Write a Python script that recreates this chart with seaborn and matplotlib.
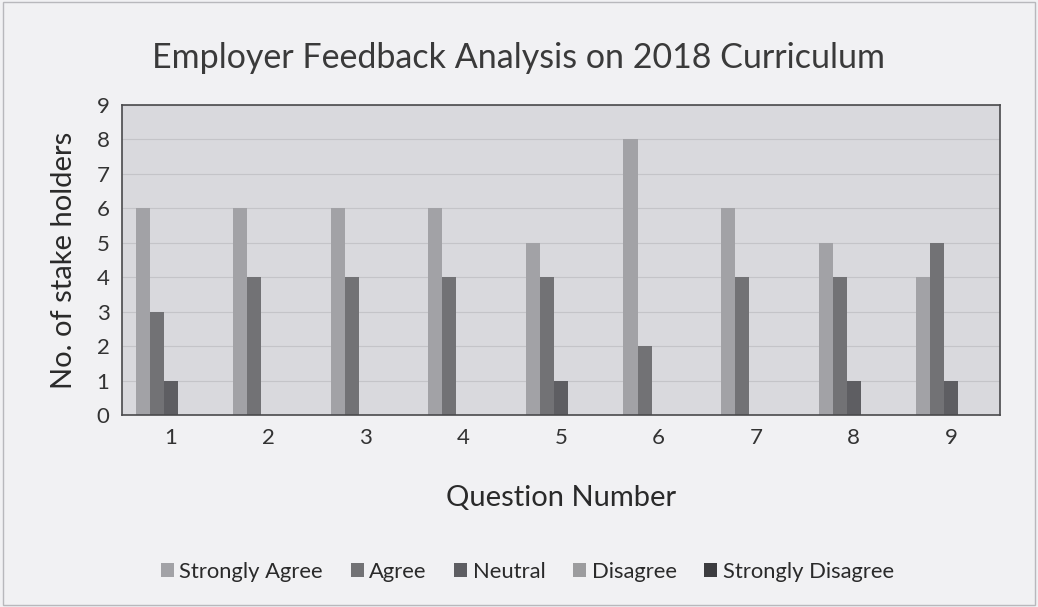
import matplotlib
matplotlib.use("Agg")
import matplotlib.pyplot as plt
import numpy as np
import pandas as pd
import seaborn as sns

questions = ['1', '2', '3', '4', '5', '6', '7', '8', '9']
responses = ['Strongly Agree', 'Agree', 'Neutral', 'Disagree', 'Strongly Disagree']
strongly_agree = [6, 6, 6, 6, 5, 8, 6, 5, 4]
agree = [3, 4, 4, 4, 4, 2, 4, 4, 5]
neutral = [1, 0, 0, 0, 1, 0, 0, 1, 1]
disagree = [0, 0, 0, 0, 0, 0, 0, 0, 0]
strongly_disagree = [0, 0, 0, 0, 0, 0, 0, 0, 0]
colors = ['#a2a2a6', '#727275', '#5e5e62', '#9c9c9e', '#3c3c3f']

rows = []
for resp, vals in zip(responses, [strongly_agree, agree, neutral, disagree, strongly_disagree]):
    for q, v in zip(questions, vals):
        rows.append({'Question': q, 'Response': resp, 'Count': v})
df = pd.DataFrame(rows)

sns.set_style('white')
plt.rcParams['font.family'] = ['Lato', 'DejaVu Sans']

fig = plt.figure(figsize=(10.38, 6.07), dpi=100, facecolor='#f1f1f3')
ax = fig.add_axes([0.1175, 0.316, 0.846, 0.511])
ax.set_facecolor('#d9d9dd')

sns.barplot(data=df, x='Question', y='Count', hue='Response', hue_order=responses,
            palette=colors, width=0.72, ax=ax, legend=True, saturation=1, linewidth=0)

ax.set_ylim(0, 9)
ax.set_yticks(range(0, 10))
ax.yaxis.grid(True, color='#c4c4c8', linewidth=0.8)
ax.set_axisbelow(True)
for s in ax.spines.values():
    s.set_color('#4a4a4c')
    s.set_linewidth(1.2)
ax.tick_params(axis='both', labelsize=16, colors='#333333', length=0, pad=9)
ax.set_xlabel('Question Number', fontsize=21, color='#2a2a2a', labelpad=27)
ax.set_ylabel('No. of stake holders', fontsize=21, color='#2a2a2a', labelpad=14)
fig.suptitle('Employer Feedback Analysis on 2018 Curriculum', fontsize=24.5,
             color='#3a3a3a', y=0.93)

handles, labels = ax.get_legend_handles_labels()
ax.get_legend().remove()
fig.legend(handles, labels, loc='center', bbox_to_anchor=(0.508, 0.058), ncol=5,
           frameon=False, fontsize=15.8, handlelength=0.6, handleheight=0.6,
           handletextpad=0.25, columnspacing=1.25, labelcolor='#2a2a2a')

fig.patches.append(plt.Rectangle((0.003, 0.003), 0.994, 0.994, transform=fig.transFigure,
                                 fill=False, edgecolor='#b8b8bc', linewidth=1))
fig.savefig('out.png', dpi=100, facecolor=fig.get_facecolor())
